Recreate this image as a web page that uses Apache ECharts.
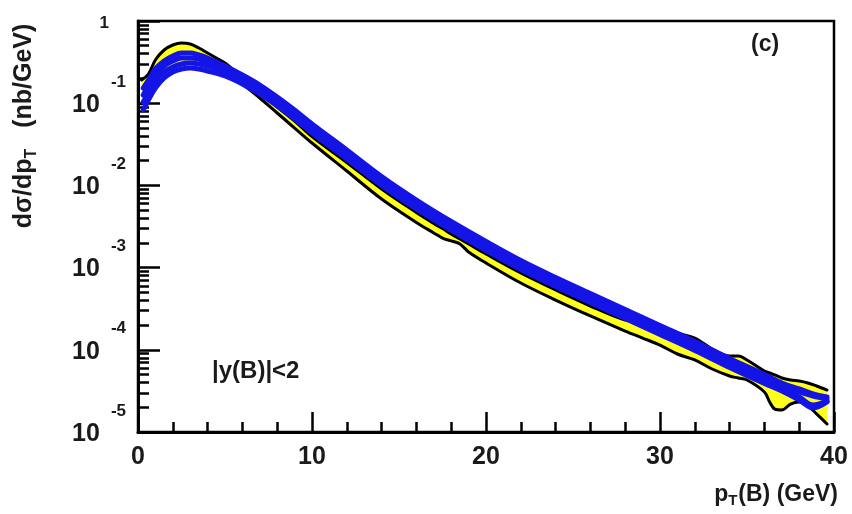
<!DOCTYPE html>
<html>
<head>
<meta charset="utf-8">
<script src="https://cdn.jsdelivr.net/npm/echarts@6/dist/echarts.min.js"></script>
<style>
html,body{margin:0;padding:0;background:#fff;}
#chart{width:852px;height:514px;}
</style>
</head>
<body>
<div id="chart"></div>
<script>
// ---------------- data ----------------
// pT grid of the blue curves (GeV)
const bluePt = [0.3,0.6,1,1.5,2,2.5,3,3.5,4,5,6,7,8,9,10,12,14,16,18,20,22,24,26,28,30,32,34,36,37,38,38.8,39.6];
// blue curves dsigma/dpT (nb/GeV)
const blue1 = [0.153,0.1915,0.261,0.326,0.375,0.408,0.408,0.386,0.355,0.2835,0.2203,0.1665,0.119,0.0827,0.0559,0.0270,0.01283,0.00664,0.00364,0.00208,0.00122,0.000758,0.000484,0.000309,0.0001975,0.0001262,0.0000784,0.0000501,0.0000395,0.0000334,0.0000290,0.0000267];
const blue2 = [0.1259,0.1619,0.2203,0.2835,0.326,0.355,0.355,0.345,0.317,0.2607,0.2026,0.1531,0.1094,0.0760,0.0514,0.0248,0.0118,0.00611,0.00334,0.00191,0.001122,0.000697,0.000445,0.000284,0.0001816,0.000116,0.0000721,0.0000460,0.0000363,0.0000307,0.0000274,0.0000252];
const blue3 = [0.1034,0.1331,0.1862,0.2397,0.2757,0.2998,0.3083,0.2998,0.2835,0.2397,0.1862,0.1407,0.1006,0.0699,0.0472,0.0228,0.01085,0.00562,0.00307,0.001756,0.001031,0.000641,0.000409,0.000261,0.000167,0.0001067,0.0000663,0.0000423,0.0000334,0.0000267,0.0000213,0.0000238];
const blue4 = [0.0827,0.1094,0.1531,0.2026,0.2397,0.2607,0.2681,0.2607,0.2465,0.2142,0.1712,0.1294,0.0925,0.0642,0.0434,0.02095,0.00997,0.00516,0.00283,0.001614,0.000948,0.000589,0.000376,0.000240,0.0001536,0.0000981,0.0000609,0.0000389,0.0000315,0.0000245,0.0000196,0.0000232];

// pT grid of the yellow uncertainty band (GeV)
const bandPt = [0.2,0.6,1,1.5,2,2.5,3,3.5,4,4.5,5,5.5,6,7,8,9,10,12,14,16,17,17.5,18,18.5,19,20,22,24,26,28,29,30,31,32,33,34,34.5,35,36,36.3,36.6,37,37.5,38,38.5,39,39.6];
const bandUpper = [0.1915,0.2266,0.3353,0.4438,0.5105,0.540,0.5251,0.4693,0.408,0.355,0.3083,0.2535,0.2026,0.1331,0.0899,0.0607,0.0393,0.0190,0.00904,0.00468,0.00344,0.00299,0.00256,0.00223,0.00194,0.001464,0.00086,0.000534,0.000341,0.000230,0.000218,0.000200,0.000160,0.000139,0.0001023,0.0000841,0.0000841,0.0000752,0.0000552,0.0000522,0.0000494,0.0000454,0.0000429,0.0000417,0.0000395,0.0000363,0.0000324];
const bandLower = [0.0978,0.1331,0.1862,0.2397,0.2757,0.2998,0.3083,0.2998,0.2835,0.2607,0.2331,0.2083,0.1712,0.1157,0.0760,0.0499,0.0328,0.01497,0.00683,0.00354,0.00264,0.00229,0.00211,0.00194,0.00155,0.00114,0.00065,0.000403,0.000258,0.000169,0.000139,0.000114,0.0000889,0.0000752,0.0000584,0.0000480,0.0000454,0.0000429,0.0000307,0.0000232,0.0000190,0.0000185,0.0000219,0.0000232,0.0000207,0.0000166,0.0000125];

// axis ranges / texts
const xRange = [0, 40];
const yRange = [1e-5, 1];
const panelLabel = '(c)';
const cutLabel = '|y(B)|<2';

// ---------------- chart ----------------
const FONT = '"Liberation Sans", Arial, Helvetica, sans-serif';
const TXT = '#1a1a1a';

function pairs(xs, ys) { return xs.map((x, i) => [x, ys[i]]); }

const minorVals = [];
for (let n = -5; n < 0; n++) {
  for (let k = 2; k <= 9; k++) minorVals.push(+(k * Math.pow(10, n)).toPrecision(3));
}

function lineSeries(name, xs, ys, color, width, z) {
  return {
    name: name, type: 'line', data: pairs(xs, ys), showSymbol: false, symbol: 'none',
    smooth: 0.35, z: z, silent: true,
    lineStyle: { color: color, width: width, cap: 'round', join: 'round' }
  };
}

const chart = echarts.init(document.getElementById('chart'), null, { renderer: 'canvas' });

const option = {
  animation: false,
  backgroundColor: '#ffffff',
  title: [
    { text: panelLabel, left: 746, top: 28,
      textStyle: { fontFamily: FONT, fontWeight: 'bold', fontSize: 23, color: TXT } },
    { text: cutLabel, left: 207, top: 354,
      textStyle: { fontFamily: FONT, fontWeight: 'bold', fontSize: 24, color: TXT } }
  ],
  grid: { left: 138, right: 18, top: 21, bottom: 82, show: true,
          borderColor: '#000', borderWidth: 2.5, backgroundColor: 'transparent' },
  xAxis: {
    type: 'value', min: xRange[0], max: xRange[1], interval: 10,
    axisLine: { show: true, onZero: false, lineStyle: { color: '#000', width: 3 } },
    axisTick: { show: true, inside: true, length: 20, lineStyle: { color: '#000', width: 2.5 } },
    minorTick: { show: true, splitNumber: 5, length: 10, lineStyle: { color: '#000', width: 2.5 } },
    splitLine: { show: false },
    axisLabel: { margin: 13, fontFamily: FONT, fontWeight: 'bold', fontSize: 25, color: TXT },
    name: '{a|p}{s|T}{a|(B) (GeV)}',
    nameLocation: 'end', nameGap: 4,
    nameTextStyle: {
      align: 'right', verticalAlign: 'top', padding: [50, 0, 0, 0],
      rich: {
        a: { fontFamily: FONT, fontWeight: 'bold', fontSize: 23, lineHeight: 25, color: TXT, verticalAlign: 'middle' },
        s: { fontFamily: FONT, fontWeight: 'bold', fontSize: 15, lineHeight: 15, color: TXT, padding: [13, 1, 0, 0], verticalAlign: 'middle' }
      }
    }
  },
  yAxis: [
    {
      type: 'log', logBase: 10, min: yRange[0], max: yRange[1], position: 'left',
      axisLine: { show: true, lineStyle: { color: '#000', width: 3 } },
      axisTick: { show: true, inside: true, length: 22, lineStyle: { color: '#000', width: 2.5 } },
      splitLine: { show: false },
      axisLabel: {
        margin: 12,
        formatter: function (v) {
          const e = Math.round(Math.log10(v));
          if (e === 0) return '{o|1}';
          return '{b|10}{s|' + e + '}';
        },
        rich: {
          b: { fontFamily: FONT, fontWeight: 'bold', fontSize: 25, lineHeight: 25, color: TXT, padding: [4, 0, 0, 0], verticalAlign: 'middle' },
          s: { fontFamily: FONT, fontWeight: 'bold', fontSize: 17, lineHeight: 17, color: TXT, padding: [0, 0, 42, 11], verticalAlign: 'middle' },
          o: { fontFamily: FONT, fontWeight: 'bold', fontSize: 17, lineHeight: 17, color: TXT, padding: [4, 17, 0, 0], verticalAlign: 'middle' }
        }
      },
      name: '{a|dσ/dp}{s|T}{a|   (nb/GeV)}',
      nameLocation: 'middle', nameGap: 100,
      nameTextStyle: {
        padding: [0, 0, 0, 201],
        rich: {
          a: { fontFamily: FONT, fontWeight: 'bold', fontSize: 25, lineHeight: 27, color: TXT, verticalAlign: 'middle' },
          s: { fontFamily: FONT, fontWeight: 'bold', fontSize: 16, lineHeight: 16, color: TXT, padding: [14, 0, 0, 0], verticalAlign: 'middle' }
        }
      }
    },
    {
      type: 'log', logBase: 10, min: yRange[0], max: yRange[1], position: 'left',
      axisLine: { show: false },
      axisLabel: { show: false },
      splitLine: { show: false },
      axisTick: { show: true, inside: true, length: 11, customValues: minorVals,
                  lineStyle: { color: '#000', width: 2.5 } }
    }
  ],
  series: [
    {
      name: 'band', type: 'custom', z: 1, silent: true, coordinateSystem: 'cartesian2d',
      data: [[20, 0.001]],
      renderItem: function (params, api) {
        const pts = [];
        for (let i = 0; i < bandPt.length; i++) pts.push(api.coord([bandPt[i], bandUpper[i]]));
        for (let i = bandPt.length - 1; i >= 0; i--) pts.push(api.coord([bandPt[i], bandLower[i]]));
        return { type: 'polygon', shape: { points: pts }, style: { fill: '#ffff1e', stroke: null } };
      }
    },
    lineSeries('upper', bandPt, bandUpper, '#000', 3, 2),
    lineSeries('lower', bandPt, bandLower, '#000', 3, 2),
    lineSeries('b1', bluePt, blue1, '#1414e6', 5, 3),
    lineSeries('b2', bluePt, blue2, '#1414e6', 5, 3),
    lineSeries('b3', bluePt, blue3, '#1414e6', 5, 3),
    lineSeries('b4', bluePt, blue4, '#1414e6', 5, 3)
  ]
};
chart.setOption(option);
</script>
</body>
</html>
